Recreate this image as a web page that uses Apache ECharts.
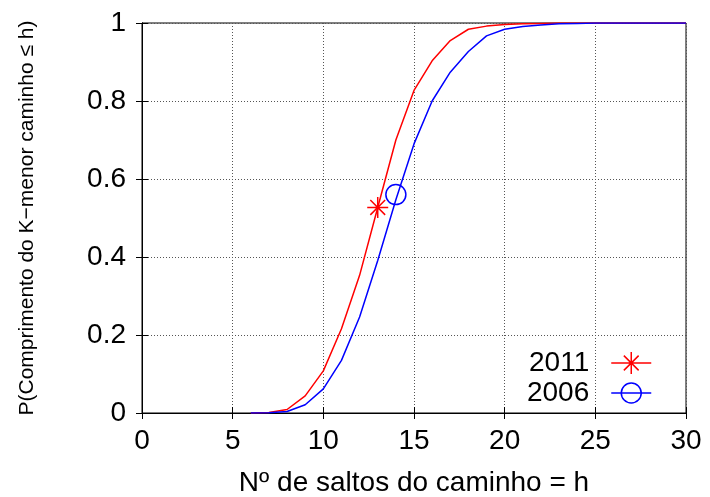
<!DOCTYPE html>
<html>
<head>
<meta charset="utf-8">
<script src="https://cdn.jsdelivr.net/npm/echarts@6/dist/echarts.min.js"></script>
<style>
  html, body { margin: 0; padding: 0; background: #fff; }
  #main { width: 710px; height: 497px; }
</style>
</head>
<body>
<div id="main"></div>
<script>
// número de saltos (h)
const hops = [6, 7, 8, 9, 10, 11, 12, 13, 14, 15, 16, 17, 18, 19, 20, 21, 22, 23, 24, 25, 26, 27, 28, 29, 30];
// P(comprimento <= h)
const cdf2011 = [0, 0.001, 0.009, 0.044, 0.108, 0.216, 0.353, 0.527, 0.700, 0.827, 0.903, 0.955, 0.984, 0.992, 0.996, 0.998, 0.999, 1, 1, 1, 1, 1, 1, 1, 1];
const cdf2006 = [0, 0.0005, 0.004, 0.021, 0.062, 0.135, 0.246, 0.391, 0.547, 0.690, 0.800, 0.874, 0.927, 0.967, 0.984, 0.991, 0.995, 0.998, 0.999, 1, 1, 1, 1, 1, 1];
// marcadores
const mark2011 = [[13, 0.527]];
const mark2006 = [[14, 0.56]];
const xTicks = [0, 5, 10, 15, 20, 25, 30];
const yTicks = [0, 0.2, 0.4, 0.6, 0.8, 1];

const FONT = "'Liberation Sans', Arial, sans-serif";
const starPath = "path://M10,0L10,20M0,10L20,10M2.93,2.93L17.07,17.07M2.93,17.07L17.07,2.93";
// legend icons: an (invisible) tiny segment at x=0 leaves room between the text and the sample line
const starIcon = "path://M0,11L0.01,11M17,11L57,11M37,0L37,22M29.6,3.6L44.4,18.4M29.6,18.4L44.4,3.6";
const circleIcon = "path://M0,11L0.01,11M17,11L57,11M47,11A10,10 0 1 1 27,11A10,10 0 1 1 47,11M37,0M37,22";

const pairs = (xs, ys) => xs.map((x, i) => [x, ys[i]]);

const chart = echarts.init(document.getElementById("main"));

const frameAxis = {
  axisLine: { show: true, lineStyle: { color: "#000", width: 1 } },
  axisTick: { show: true, inside: true, length: 6, lineStyle: { color: "#000" } },
};

chart.setOption({
  animation: false,
  backgroundColor: "#fff",
  grid: {
    left: 142, right: 24, top: 23, bottom: 84,
    outerBoundsMode: "none", containLabel: false,
    show: true, borderColor: "#000", borderWidth: 1, backgroundColor: "transparent",
  },
  legend: {
    right: 53, top: 344, orient: "vertical", align: "right",
    itemWidth: 57, itemHeight: 22, itemGap: 2,
    textStyle: { fontFamily: FONT, fontSize: 28, color: "#000" },
    selectedMode: false,
    data: [
      { name: "2011", icon: starIcon, itemStyle: { color: "transparent", borderColor: "#ff0000", borderWidth: 1.5 } },
      { name: "2006", icon: circleIcon, itemStyle: { color: "transparent", borderColor: "#0000ff", borderWidth: 1.5 } },
    ],
  },
  xAxis: [
    {
      type: "value", min: xTicks[0], max: xTicks[xTicks.length - 1], interval: 5,
      name: "Nº de saltos do caminho = h", nameLocation: "middle", nameGap: 56,
      nameTextStyle: { fontFamily: FONT, fontSize: 28, color: "#000" },
      ...frameAxis,
      axisLabel: { margin: 14, fontFamily: FONT, fontSize: 28, color: "#000" },
      splitLine: { show: true, lineStyle: { color: "#555", type: [1, 2], width: 1 } },
    },
    {
      type: "value", position: "top", min: 0, max: 30, interval: 5,
      ...frameAxis, axisLabel: { show: false }, splitLine: { show: false },
    },
  ],
  yAxis: [
    {
      type: "value", min: yTicks[0], max: yTicks[yTicks.length - 1], interval: 0.2,
      name: "P(Comprimento do K−menor caminho ≤ h)", nameLocation: "middle", nameGap: 104,
      nameTextStyle: { fontFamily: FONT, fontSize: 21, color: "#000" },
      ...frameAxis,
      axisLabel: { margin: 16, fontFamily: FONT, fontSize: 28, color: "#000" },
      splitLine: { show: true, lineStyle: { color: "#555", type: [1, 2], width: 1 } },
    },
    {
      type: "value", position: "right", min: 0, max: 1, interval: 0.2,
      ...frameAxis, axisLabel: { show: false }, splitLine: { show: false },
    },
  ],
  series: [
    {
      name: "2011", type: "line", data: pairs(hops, cdf2011), symbol: "none",
      lineStyle: { color: "#ff0000", width: 1.5 }, itemStyle: { color: "#ff0000" }, z: 3,
    },
    {
      name: "2006", type: "line", data: pairs(hops, cdf2006), symbol: "none",
      lineStyle: { color: "#0000ff", width: 1.5 }, itemStyle: { color: "#0000ff" }, z: 3,
    },
    {
      name: "2011", type: "scatter", data: mark2011, symbol: starPath, symbolSize: 21,
      itemStyle: { color: "transparent", borderColor: "#ff0000", borderWidth: 1.5, opacity: 1 }, z: 4,
    },
    {
      name: "2006", type: "scatter", data: mark2006, symbol: "circle", symbolSize: 20,
      itemStyle: { color: "transparent", borderColor: "#0000ff", borderWidth: 1.5, opacity: 1 }, z: 4,
    },
  ],
});
</script>
</body>
</html>
